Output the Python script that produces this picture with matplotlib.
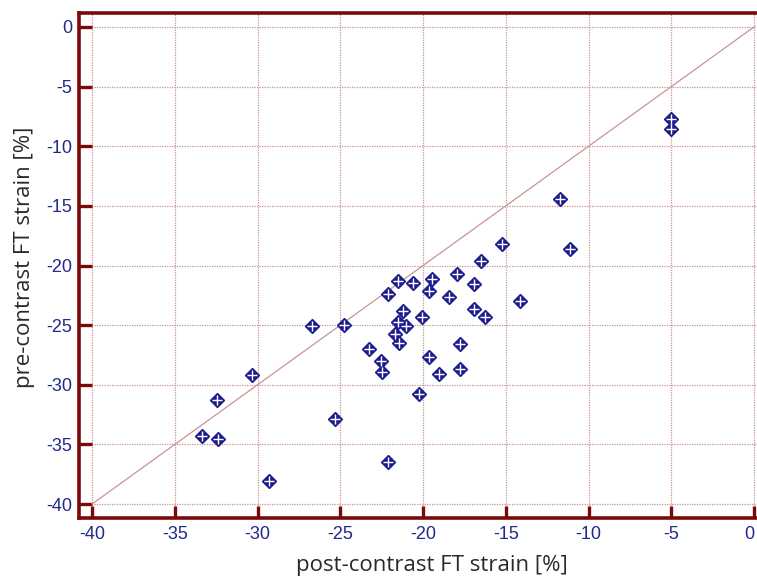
import matplotlib
matplotlib.use("Agg")
import matplotlib.pyplot as plt

post_contrast = [-5.0, -5.0, -11.7, -11.15, -15.25, -14.12, -16.5, -17.93, -16.92, -19.46,
                 -21.49, -20.59, -22.1, -19.66, -18.45, -16.94, -21.19, -16.23, -20.06, -21.49,
                 -21.0, -24.8, -21.67, -21.43, -23.24, -17.78, -19.66, -22.52, -22.48, -17.78,
                 -19.06, -26.71, -30.33, -32.47, -33.34, -32.37, -25.3, -29.3, -22.13, -20.24]
pre_contrast = [-7.7, -8.55, -14.4, -18.6, -18.2, -23.0, -19.65, -20.7, -21.52, -21.13,
                -21.33, -21.44, -22.39, -22.14, -22.64, -23.65, -23.79, -24.35, -24.35, -24.77,
                -25.1, -25.0, -25.77, -26.53, -27.03, -26.56, -27.65, -27.98, -28.96, -28.65,
                -29.12, -25.1, -29.16, -31.31, -34.3, -34.52, -32.9, -38.04, -36.48, -30.8]
identity = [-40, 0]
xticks = [-40, -35, -30, -25, -20, -15, -10, -5, 0]
yticks = [0, -5, -10, -15, -20, -25, -30, -35, -40]

frame_col = "#7a0a0a"
grid_col = "#c79393"
tick_txt = "#1f2a8a"
marker_col = "#1c1c8c"

fig = plt.figure(figsize=(7.57, 5.78), dpi=100)
ax = fig.add_axes([79/757, 1-518/578, (757-79)/757, (518-13)/578])

ax.set_xlim(-40.79, 0.18)
ax.set_ylim(-41.17, 1.17)

ax.set_xticks(xticks)
ax.set_yticks(yticks)
ax.grid(True, color=grid_col, linestyle=(0, (1, 1)), linewidth=0.9)
ax.set_axisbelow(True)

ax.plot(identity, identity, color="#c99494", lw=0.9, zorder=2)

ax.plot(post_contrast, pre_contrast, linestyle="none", marker="D", ms=7.2,
        mfc=marker_col, mec=marker_col, zorder=3)
ax.plot(post_contrast, pre_contrast, linestyle="none", marker="+", ms=6.5,
        mec="white", mew=1.0, zorder=4)

for s in ["left", "bottom", "top"]:
    ax.spines[s].set_color(frame_col)
    ax.spines[s].set_linewidth(2.6)
ax.spines["right"].set_visible(False)

ax.tick_params(axis="both", direction="in", length=9, width=2.4, color=frame_col,
               labelcolor=tick_txt, labelsize=13)
ax.tick_params(axis="x", pad=6)
ax.tick_params(axis="y", pad=5)
ax.set_xticklabels([str(t) for t in xticks])
ax.set_yticklabels([str(t) for t in yticks])
for lab in ax.get_xticklabels() + ax.get_yticklabels():
    lab.set_fontfamily("Liberation Sans")
ax.get_xticklabels()[-1].set_horizontalalignment("right")

fig.text(432/757, 1-566/578, "post-contrast FT strain [%]", ha="center", va="center",
         fontsize=16, color="#2a2a2a", family="Open Sans")
fig.text(25/757, 1-257/578, "pre-contrast FT strain [%]", ha="center", va="center",
         rotation=90, fontsize=16, color="#2a2a2a", family="Open Sans")

fig.savefig("out.png", dpi=100)
